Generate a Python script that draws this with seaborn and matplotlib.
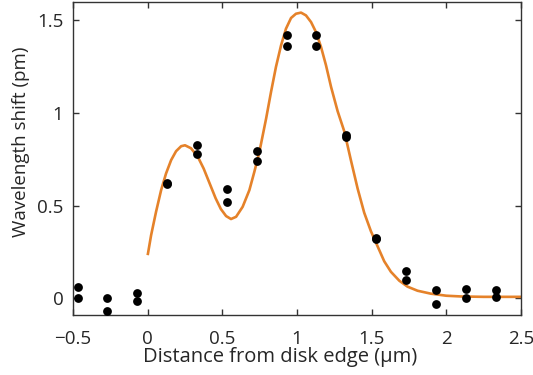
import numpy as np
import pandas as pd
import seaborn as sns
import matplotlib.pyplot as plt

# measured points (two repeats at each position)
dist = [-0.47, -0.47, -0.27, -0.27, -0.07, -0.07, 0.13, 0.13, 0.33, 0.33,
        0.53, 0.53, 0.73, 0.73, 0.93, 0.93, 1.13, 1.13, 1.33, 1.33,
        1.53, 1.53, 1.73, 1.73, 1.93, 1.93, 2.13, 2.13, 2.33, 2.33]
shift = [0.063, 0.0, 0.004, -0.068, 0.030, -0.013, 0.620, 0.618, 0.826, 0.778,
         0.589, 0.518, 0.794, 0.740, 1.421, 1.360, 1.421, 1.360, 0.880, 0.872,
         0.323, 0.318, 0.149, 0.099, 0.045, -0.032, 0.049, 0.003, 0.045, 0.009]

# fitted curve
fit_x = [0.0, 0.023, 0.056, 0.090, 0.123, 0.157, 0.190, 0.224, 0.250, 0.290,
         0.335, 0.375, 0.415, 0.455, 0.490, 0.525, 0.558, 0.592, 0.636, 0.681,
         0.714, 0.748, 0.793, 0.826, 0.859, 0.893, 0.926, 0.960, 0.993, 1.027,
         1.060, 1.094, 1.127, 1.161, 1.194, 1.228, 1.272, 1.317, 1.361, 1.406,
         1.450, 1.495, 1.540, 1.584, 1.629, 1.685, 1.740, 1.807, 1.897, 2.0,
         2.1, 2.25, 2.5]
fit_y = [0.233, 0.341, 0.467, 0.584, 0.674, 0.746, 0.794, 0.821, 0.826, 0.810,
         0.765, 0.700, 0.620, 0.540, 0.482, 0.444, 0.428, 0.440, 0.494, 0.584,
         0.682, 0.790, 0.970, 1.114, 1.249, 1.365, 1.455, 1.513, 1.536, 1.542,
         1.527, 1.491, 1.437, 1.356, 1.258, 1.141, 1.010, 0.900, 0.745, 0.592,
         0.462, 0.362, 0.280, 0.200, 0.143, 0.095, 0.063, 0.041, 0.025, 0.014,
         0.010, 0.008, 0.008]

x_ticks = [-0.5, 0, 0.5, 1, 1.5, 2, 2.5]
x_labels = ["\u22120.5", "0", "0.5", "1", "1.5", "2", "2.5"]
y_ticks = [0, 0.5, 1, 1.5]
y_labels = ["0", "0.5", "1", "1.5"]

pts = pd.DataFrame({"dist": dist, "shift": shift})
fit = pd.DataFrame({"x": fit_x, "y": fit_y})

sns.set_style("ticks")
plt.rcParams["font.family"] = ["Open Sans", "DejaVu Sans"]

fig = plt.figure(figsize=(5.33, 3.75), dpi=100)
ax = fig.add_axes([0.137, 0.16, 0.8405, 0.835])

sns.lineplot(data=fit, x="x", y="y", color="#E5822A", linewidth=1.9, ax=ax,
             zorder=2, solid_joinstyle="round", solid_capstyle="butt")
sns.scatterplot(data=pts, x="dist", y="shift", color="black", s=40,
                edgecolor="black", linewidth=0, ax=ax, zorder=3)

ax.set_xlim(-0.5, 2.5)
ax.set_ylim(-0.09, 1.6)
ax.set_xticks(x_ticks)
ax.set_xticklabels(x_labels)
ax.set_yticks(y_ticks)
ax.set_yticklabels(y_labels)
ax.tick_params(direction="in", length=4, width=1, color="#333333",
               top=True, right=True, labelsize=13.5)
ax.tick_params(axis="x", pad=11)
ax.tick_params(axis="y", pad=7)
for s in ax.spines.values():
    s.set_visible(True)
    s.set_color("#333333")
    s.set_linewidth(1.0)

ax.set_xlabel("Distance from disk edge (\u03bcm)", fontsize=14.5, labelpad=-1, x=0.462)
ax.set_ylabel("Wavelength shift (pm)", fontsize=13.5, labelpad=5, y=0.554)

fig.savefig("out.png", dpi=100)
